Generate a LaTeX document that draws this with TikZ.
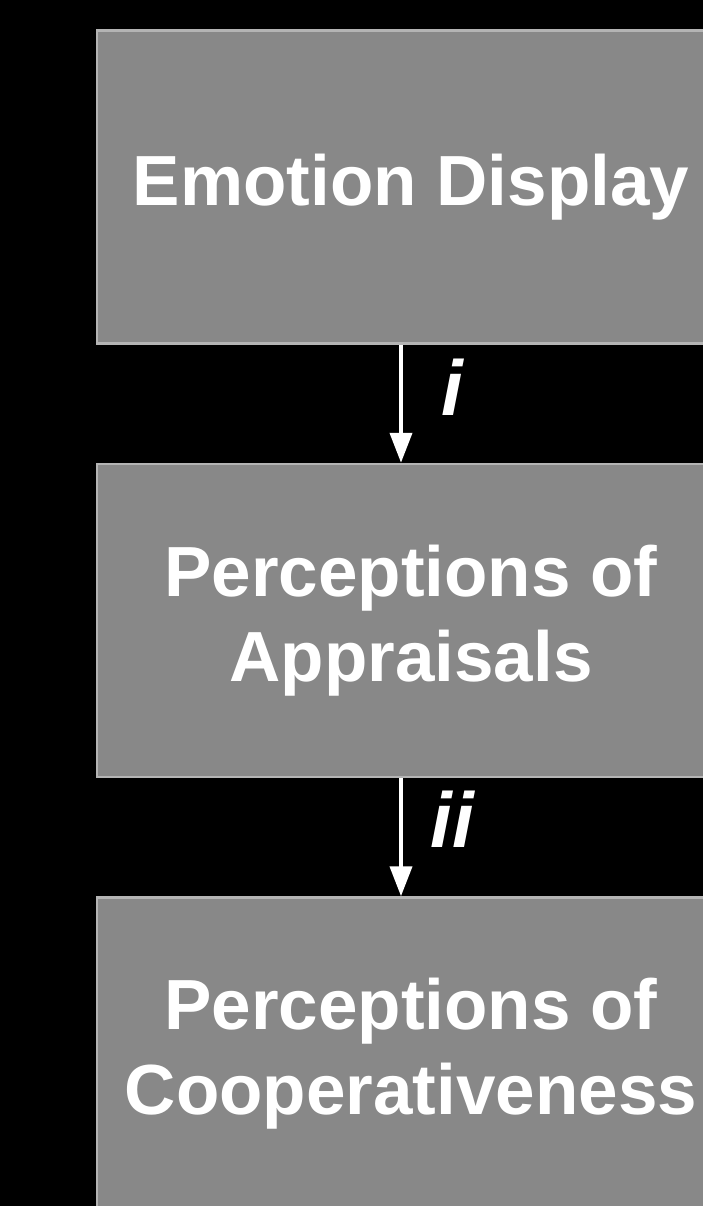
\documentclass[tikz,border=0pt]{standalone}
\usepackage{fontspec}
\setmainfont{Liberation Sans}
\usetikzlibrary{positioning, arrows.meta}
\definecolor{boxgray}{RGB}{136,136,136}
\definecolor{edgegray}{RGB}{180,180,180}

\begin{document}
\begin{tikzpicture}[
      x=1pt, y=-1pt,
      stage/.style={draw=edgegray, line width=2.5pt, fill=boxgray, text=white,
        minimum width=628pt, minimum height=313pt, align=center,
        font=\fontsize{71}{85}\selectfont\bfseries},
      flow/.style={draw=white, line width=4pt, -{Triangle[width=22pt,length=30pt]}},
      tag/.style={text=white, inner sep=0pt, font=\fontsize{78}{80}\selectfont\bfseries\itshape}
    ]
      \fill[black] (0,0) rectangle (703,1206);
      \useasboundingbox (0,0) rectangle (703,1206);
      \node[stage] (emotion) at (411,187) {Emotion Display};
      \node[stage, below=118pt of emotion] (appraisal) {Perceptions of\\Appraisals};
      \node[stage, below=118pt of appraisal] (coop) {Perceptions of\\Cooperativeness};
      \draw[flow] ([xshift=-10pt]emotion.south) -- ([xshift=-10pt]appraisal.north)
        node[tag, midway, xshift=51pt, yshift=17pt] (ti) {i};
      \draw[flow] ([xshift=-10pt]appraisal.south) -- ([xshift=-10pt]coop.north)
        node[tag, midway, xshift=51pt, yshift=18pt] (tii) {ii};
  \end{tikzpicture}
\end{document}
